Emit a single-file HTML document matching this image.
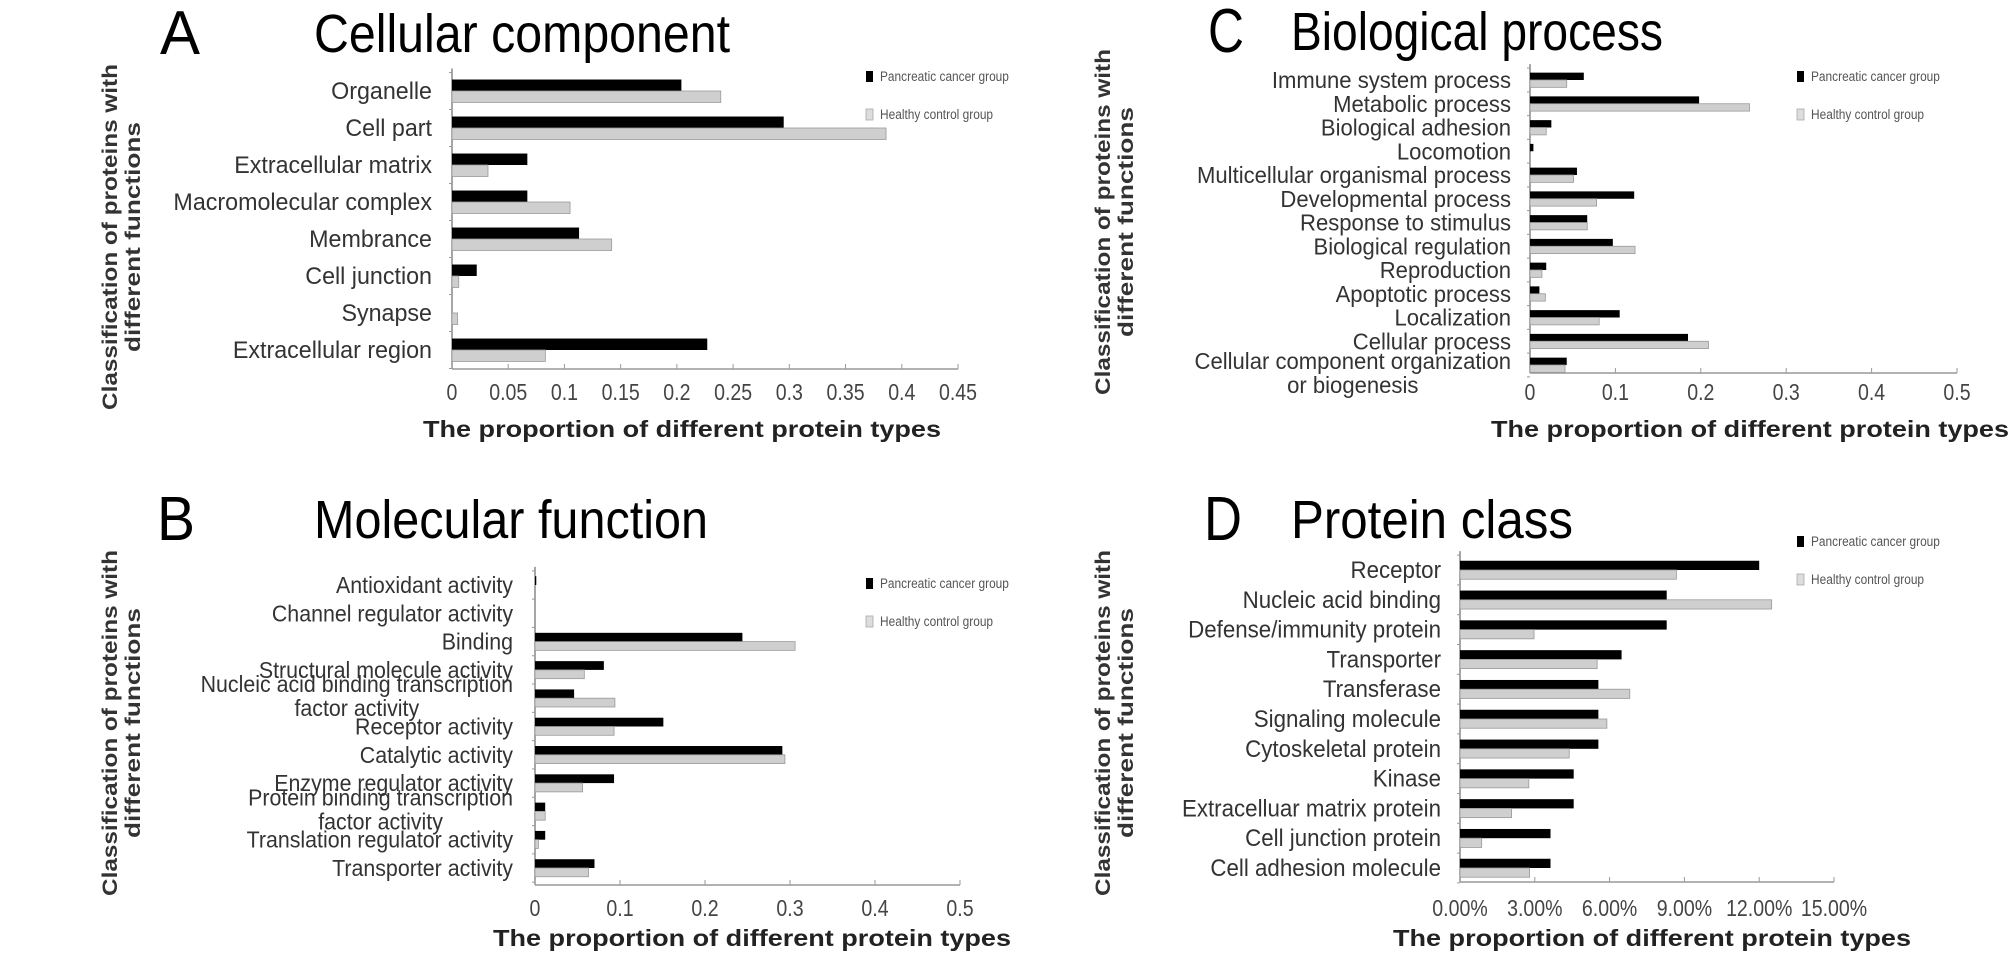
<!DOCTYPE html>
<html><head><meta charset="utf-8"><style>
html,body{margin:0;padding:0;background:#fff;}
svg{display:block;}
text{font-family:"Liberation Sans Narrow","Liberation Sans",sans-serif;}
</style></head><body>
<svg id="fig" width="2008" height="963" viewBox="0 0 2008 963" xmlns="http://www.w3.org/2000/svg"></svg>
<script>
// ---- Panel A: Cellular component ----
const catsA = ["Organelle","Cell part","Extracellular matrix","Macromolecular complex","Membrance","Cell junction","Synapse","Extracellular region"];
const cancerA = [0.204,0.295,0.067,0.067,0.113,0.022,0,0.227];
const healthyA = [0.239,0.386,0.032,0.105,0.142,0.006,0.005,0.083];
const ticksA = [0,0.05,0.1,0.15,0.2,0.25,0.3,0.35,0.4,0.45];
const tickLabelsA = ["0","0.05","0.1","0.15","0.2","0.25","0.3","0.35","0.4","0.45"];
// ---- Panel B: Molecular function ----
const catsB = ["Antioxidant activity","Channel regulator activity","Binding","Structural molecule activity","Nucleic acid binding transcription|factor activity","Receptor activity","Catalytic activity","Enzyme regulator activity","Protein binding transcription|factor activity","Translation regulator activity","Transporter activity"];
const cancerB = [0.0015,0,0.244,0.081,0.046,0.151,0.291,0.093,0.012,0.012,0.070];
const healthyB = [0,0,0.306,0.058,0.094,0.093,0.294,0.056,0.012,0.004,0.063];
const ticksB = [0,0.1,0.2,0.3,0.4,0.5];
const tickLabelsB = ["0","0.1","0.2","0.3","0.4","0.5"];
// ---- Panel C: Biological process ----
const catsC = ["Immune system process","Metabolic process","Biological adhesion","Locomotion","Multicellular organismal process","Developmental process","Response to stimulus","Biological regulation","Reproduction","Apoptotic process","Localization","Cellular process","Cellular component organization|or biogenesis"];
const cancerC = [0.063,0.198,0.025,0.004,0.055,0.122,0.067,0.097,0.019,0.011,0.105,0.185,0.043];
const healthyC = [0.043,0.257,0.019,0,0.051,0.078,0.067,0.123,0.014,0.018,0.081,0.209,0.041];
const ticksC = [0,0.1,0.2,0.3,0.4,0.5];
const tickLabelsC = ["0","0.1","0.2","0.3","0.4","0.5"];
// ---- Panel D: Protein class (%) ----
const catsD = ["Receptor","Nucleic acid binding","Defense/immunity protein","Transporter","Transferase","Signaling molecule","Cytoskeletal protein","Kinase","Extracelluar matrix protein","Cell junction protein","Cell adhesion molecule"];
const cancerD = [12.0,8.29,8.29,6.48,5.55,5.55,5.55,4.56,4.56,3.63,3.63];
const healthyD = [8.68,12.5,2.97,5.50,6.81,5.89,4.38,2.76,2.07,0.87,2.79];
const ticksD = [0,3,6,9,12,15];
const tickLabelsD = ["0.00%","3.00%","6.00%","9.00%","12.00%","15.00%"];

const NS="http://www.w3.org/2000/svg";
const svg=document.getElementById('fig');
function mk(tag,attrs,parent,txt){const e=document.createElementNS(NS,tag);for(const k in attrs)e.setAttribute(k,attrs[k]);if(txt!==undefined)e.textContent=txt;(parent||svg).appendChild(e);return e;}
function ntext(parent,x,y,anchor,size,fill,txt,sx){
  const gg=mk('g',{transform:`translate(${x},${y}) scale(${sx},1)`},parent);
  return mk('text',{x:0,y:0,'text-anchor':anchor,'font-size':size,fill:fill},gg,txt);
}

function panel(cfg){
  const g=mk('g',{});
  
  
  const x=v=>cfg.x0+(v-cfg.ticks[0])/(cfg.ticks[cfg.ticks.length-1]-cfg.ticks[0])*(cfg.x1-cfg.x0);
  const n=cfg.cats.length;
  const step=(cfg.lastY-cfg.firstY)/(n-1);
  const y=i=>cfg.firstY+i*step;
  const bh=step*0.31;
  const L=mk('text',{x:cfg.letterX,y:cfg.titleY+4,'font-size':62,fill:'#000','font-family':'Liberation Sans, sans-serif',textLength:cfg.letterW,lengthAdjust:'spacingAndGlyphs'},g,cfg.letter);
  
  
  const T=mk('text',{x:cfg.titleX,y:cfg.titleY+2,'font-size':54,fill:'#000',textLength:cfg.titleW,lengthAdjust:'spacingAndGlyphs'},g,cfg.title);
  
  
  const yt=mk('g',{transform:`translate(${cfg.ytX},${cfg.ytY}) rotate(-90)`},g);
  
  
  mk('text',{x:0,y:0,'text-anchor':'middle','font-size':21,'font-weight':'bold',fill:'#333','font-family':'Liberation Sans, sans-serif',textLength:346,lengthAdjust:'spacingAndGlyphs'},yt,'Classification of proteins with');
  mk('text',{x:0,y:23,'text-anchor':'middle','font-size':21,'font-weight':'bold',fill:'#333','font-family':'Liberation Sans, sans-serif',textLength:230,lengthAdjust:'spacingAndGlyphs'},yt,'different functions');
  const top=cfg.firstY-step*0.5-4, bot=cfg.axisY;
  const ax=mk('line',{x1:cfg.x0,y1:top,x2:cfg.x0,y2:bot,stroke:'#888','stroke-width':1.5},g);
  
  
  const xa=mk('line',{x1:cfg.x0,y1:bot,x2:cfg.x1,y2:bot,stroke:'#999','stroke-width':1.5},g);
  
  
  for(let i=0;i<=n;i++){const ty=cfg.firstY-step*0.5+i*step;mk('line',{x1:cfg.x0-3,y1:ty,x2:cfg.x0,y2:ty,stroke:'#999'},g);}
  cfg.ticks.forEach((t,i)=>{
    mk('line',{x1:x(t),y1:bot,x2:x(t),y2:bot-5,stroke:'#999'},g);
    const tl=ntext(g,x(t),cfg.tickY,'middle',23,'#444',cfg.tickLabels[i],0.85);
    
    
  });
  const xt=mk('text',{x:cfg.xtX,y:cfg.xtY,'text-anchor':'middle','font-size':23,'font-weight':'bold',fill:'#222',textLength:518,lengthAdjust:'spacingAndGlyphs'},g,'The proportion of different protein types');
  
  
  cfg.cats.forEach((c,i)=>{
    const cy=y(i);
    const b1=mk('rect',{x:cfg.x0,y:cy-bh,width:Math.max(0,x(cfg.cancer[i])-cfg.x0),height:bh,fill:'#000'},g);
    
    
    const b2=mk('rect',{x:cfg.x0,y:cy,width:Math.max(0,x(cfg.healthy[i])-cfg.x0),height:bh,fill:'#cfcfcf',stroke:'#999','stroke-width':0.8},g);
    
    
    const parts=c.split('|');
    if(parts.length===1){
      const t=ntext(g,cfg.labelX,cy+8,'end',cfg.lf,'#333',c,cfg.sx);
      
      
    } else {
      const t=ntext(g,cfg.labelX,cy-4+cfg.ml1,'end',cfg.lf,'#333',parts[0],cfg.sx);
      
      
      const w=t.getComputedTextLength()*cfg.sx;
      const t2=ntext(g,cfg.labelX-w/2,cy-4+cfg.ml1+cfg.lf+1,'middle',cfg.lf,'#333',parts[1],cfg.sx);
      
      
    }
  });
  const lg=mk('g',{},g);
  
  
  mk('rect',{x:cfg.legX,y:cfg.legY-6,width:7,height:11,fill:'#000'},lg);
  ntext(lg,cfg.legX+14,cfg.legY+4,'start',14,'#555','Pancreatic cancer group',0.85);
  mk('rect',{x:cfg.legX,y:cfg.legY+32,width:7,height:11,fill:'#ddd',stroke:'#aaa','stroke-width':0.8},lg);
  ntext(lg,cfg.legX+14,cfg.legY+42,'start',14,'#555','Healthy control group',0.85);
}

panel({id:'cellular-component',letter:'A',letterX:160,letterW:40,title:'Cellular component',titleX:314,titleW:416,titleY:50,
  ytX:117,ytY:237,x0:452,x1:958,firstY:91,lastY:350,axisY:369,tickY:400,xtX:682,xtY:437,labelX:432,lf:24,sx:0.97,ml1:0,
  cats:catsA,cancer:cancerA,healthy:healthyA,ticks:ticksA,tickLabels:tickLabelsA,legX:866,legY:77});
panel({id:'molecular-function',letter:'B',letterX:157,letterW:38,title:'Molecular function',titleX:314,titleW:394,titleY:536,
  ytX:117,ytY:723,x0:535,x1:960,firstY:585,lastY:868,axisY:885,tickY:916,xtX:752,xtY:946,labelX:513,lf:23,sx:0.93,ml1:-2,
  cats:catsB,cancer:cancerB,healthy:healthyB,ticks:ticksB,tickLabels:tickLabelsB,legX:866,legY:584});
panel({id:'biological-process',letter:'C',letterX:1208,letterW:36,title:'Biological process',titleX:1291,titleW:372,titleY:48,
  ytX:1110,ytY:222,x0:1530,x1:1957,firstY:80,lastY:365,axisY:373,tickY:400,xtX:1750,xtY:437,labelX:1511,lf:23,sx:0.96,ml1:8,
  cats:catsC,cancer:cancerC,healthy:healthyC,ticks:ticksC,tickLabels:tickLabelsC,legX:1797,legY:77});
panel({id:'protein-class',letter:'D',letterX:1204,letterW:38,title:'Protein class',titleX:1291,titleW:282,titleY:536,
  ytX:1110,ytY:723,x0:1460,x1:1834,firstY:570,lastY:868,axisY:882,tickY:916,xtX:1652,xtY:946,labelX:1441,lf:24,sx:0.93,ml1:0,
  cats:catsD,cancer:cancerD,healthy:healthyD,ticks:ticksD,tickLabels:tickLabelsD,legX:1797,legY:542});
</script>
</body></html>
